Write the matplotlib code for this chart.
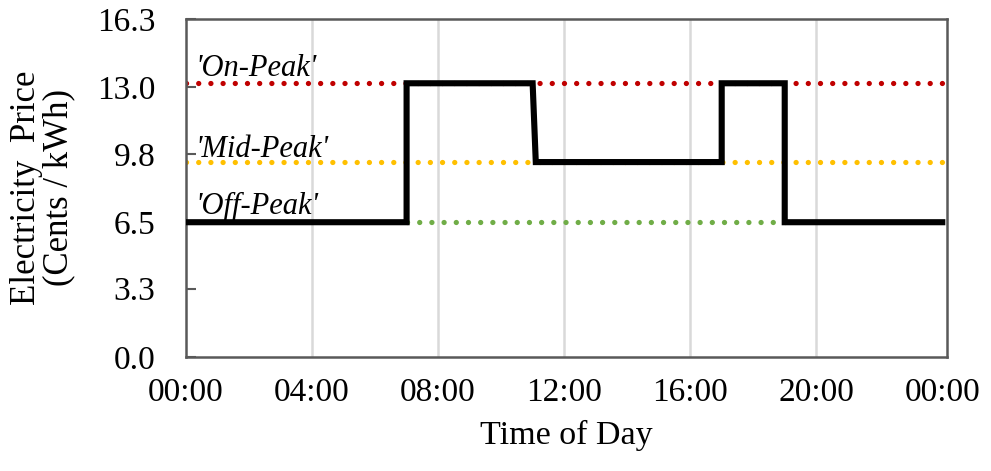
import numpy as np
import matplotlib

matplotlib.use('Agg')
import matplotlib.pyplot as plt

# hourly time-of-use schedule (hours of day) and price (cents / kWh)
price_hours = [0, 7, 7, 11, 11.1, 17, 17, 19, 19, 24]
price_vals = [6.5, 6.5, 13.2, 13.2, 9.4, 9.4, 13.2, 13.2, 6.5, 6.5]

tier_names = ["'On-Peak'", "'Mid-Peak'", "'Off-Peak'"]
tier_prices = [13.2, 9.4, 6.5]
tier_spans = [(0, 24), (0, 24), (7, 19)]
tier_colors = ['#c00000', '#ffc000', '#70ad47']

y_ticks = [0.0, 3.3, 6.5, 9.8, 13.0, 16.3]
x_ticks = [0, 4, 8, 12, 16, 20, 24]
x_labels = ['00:00', '04:00', '08:00', '12:00', '16:00', '20:00', '00:00']

plt.rcParams['font.family'] = ['Liberation Serif', 'DejaVu Serif']

fig = plt.figure(figsize=(9.91, 4.71), dpi=100)
ax0 = fig.add_axes([0.1877, 0.242, 0.9556 - 0.1877, 0.9597 - 0.242])

for x in x_ticks[1:-1]:
    ax0.axvline(x=x, color='#d9d9d9', linewidth=1.8, zorder=0)

for name, p, (x0, x1), c in zip(tier_names, tier_prices, tier_spans, tier_colors):
    ax0.plot([x0, x1], [p, p], color=c, linestyle=(0, (0.01, 2.3)),
             linewidth=3.8, dash_capstyle='round', zorder=2)

ax0.plot(price_hours, price_vals, color='black', linewidth=4.4,
         solid_joinstyle='miter', zorder=3)

label_y = [13.55, 9.65, 6.9]
for name, ly in zip(tier_names, label_y):
    ax0.text(0.3, ly, name, fontsize=22, style='italic', va='baseline', ha='left')

ax0.set_xlim(0, 24.15)
ax0.set_ylim(0, 16.3)
ax0.set_xticks(x_ticks)
ax0.set_xticklabels(x_labels)
ax0.set_yticks(y_ticks)
ax0.set_yticklabels(['%.1f' % v for v in y_ticks])

ax0.tick_params(axis='x', length=0, pad=15, labelsize=24)
ax0.tick_params(axis='y', direction='in', length=7, width=1.5,
                color='#595959', pad=22, labelsize=24)

for s in ax0.spines.values():
    s.set_color('#595959')
    s.set_linewidth(1.8)

ax0.set_xlabel('Time of Day', fontsize=24.5, labelpad=8)
ax0.set_ylabel('Electricity  Price\n(Cents / kWh)', fontsize=25,
               linespacing=0.95)
ax0.yaxis.set_label_coords(-0.146, 0.5)

plt.savefig('out.png', dpi=100)
